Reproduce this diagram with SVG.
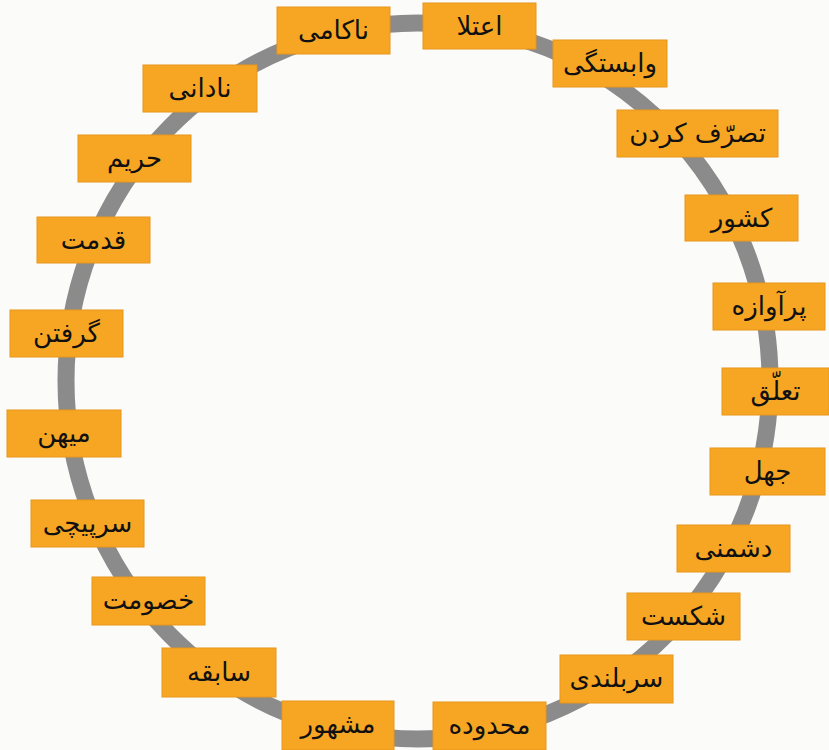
<svg xmlns="http://www.w3.org/2000/svg" width="829" height="750" viewBox="0 0 829 750">
<style>
.ring{fill:none;stroke:#8b8b8b;stroke-width:17}
.box{fill:#F6A623;stroke:#E8961A;stroke-width:1}
.lbl{font-family:"DejaVu Sans","Noto Sans",sans-serif;font-size:26px;fill:#111;text-anchor:middle;direction:rtl}
</style>
<rect x="0" y="0" width="829" height="750" fill="#fbfbfa"/>
<g id="connectors">
<ellipse class="ring" cx="418" cy="381" rx="352" ry="358"/>
</g>
<g id="n1"><rect class="box" x="423" y="3" width="113" height="46"/><text class="lbl" x="479.5" y="35">اعتلا</text></g>
<g id="n2"><rect class="box" x="553" y="40" width="114" height="47"/><text class="lbl" x="610" y="72">وابستگی</text></g>
<g id="n3"><rect class="box" x="617" y="110" width="161" height="47"/><text class="lbl" x="697.5" y="142">تصرّف کردن</text></g>
<g id="n4"><rect class="box" x="685" y="195" width="113" height="46"/><text class="lbl" x="741.5" y="227">کشور</text></g>
<g id="n5"><rect class="box" x="713" y="283" width="112" height="47"/><text class="lbl" x="769" y="315">پرآوازه</text></g>
<g id="n6"><rect class="box" x="722" y="368" width="107" height="47"/><text class="lbl" x="775.5" y="400">تعلّق</text></g>
<g id="n7"><rect class="box" x="710" y="448" width="115" height="47"/><text class="lbl" x="767.5" y="480">جهل</text></g>
<g id="n8"><rect class="box" x="677" y="525" width="113" height="47"/><text class="lbl" x="733.5" y="557">دشمنی</text></g>
<g id="n9"><rect class="box" x="627" y="593" width="113" height="47"/><text class="lbl" x="683.5" y="625">شکست</text></g>
<g id="n10"><rect class="box" x="560" y="655" width="113" height="48"/><text class="lbl" x="616.5" y="687">سربلندی</text></g>
<g id="n11"><rect class="box" x="433" y="702" width="113" height="48"/><text class="lbl" x="489.5" y="734">محدوده</text></g>
<g id="n12"><rect class="box" x="282" y="701" width="112" height="49"/><text class="lbl" x="338" y="733">مشهور</text></g>
<g id="n13"><rect class="box" x="162" y="648" width="114" height="49"/><text class="lbl" x="219" y="681">سابقه</text></g>
<g id="n14"><rect class="box" x="92" y="577" width="113" height="48"/><text class="lbl" x="148.5" y="609">خصومت</text></g>
<g id="n15"><rect class="box" x="31" y="500" width="113" height="47"/><text class="lbl" x="87.5" y="532">سرپیچی</text></g>
<g id="n16"><rect class="box" x="7" y="410" width="114" height="47"/><text class="lbl" x="64" y="442">میهن</text></g>
<g id="n17"><rect class="box" x="10" y="310" width="113" height="47"/><text class="lbl" x="66.5" y="342">گرفتن</text></g>
<g id="n18"><rect class="box" x="37" y="217" width="113" height="46"/><text class="lbl" x="93.5" y="249">قدمت</text></g>
<g id="n19"><rect class="box" x="78" y="135" width="113" height="47"/><text class="lbl" x="134.5" y="167">حریم</text></g>
<g id="n20"><rect class="box" x="143" y="65" width="114" height="47"/><text class="lbl" x="200" y="97">نادانی</text></g>
<g id="n21"><rect class="box" x="277" y="7" width="113" height="47"/><text class="lbl" x="333.5" y="39">ناکامی</text></g>
</svg>
